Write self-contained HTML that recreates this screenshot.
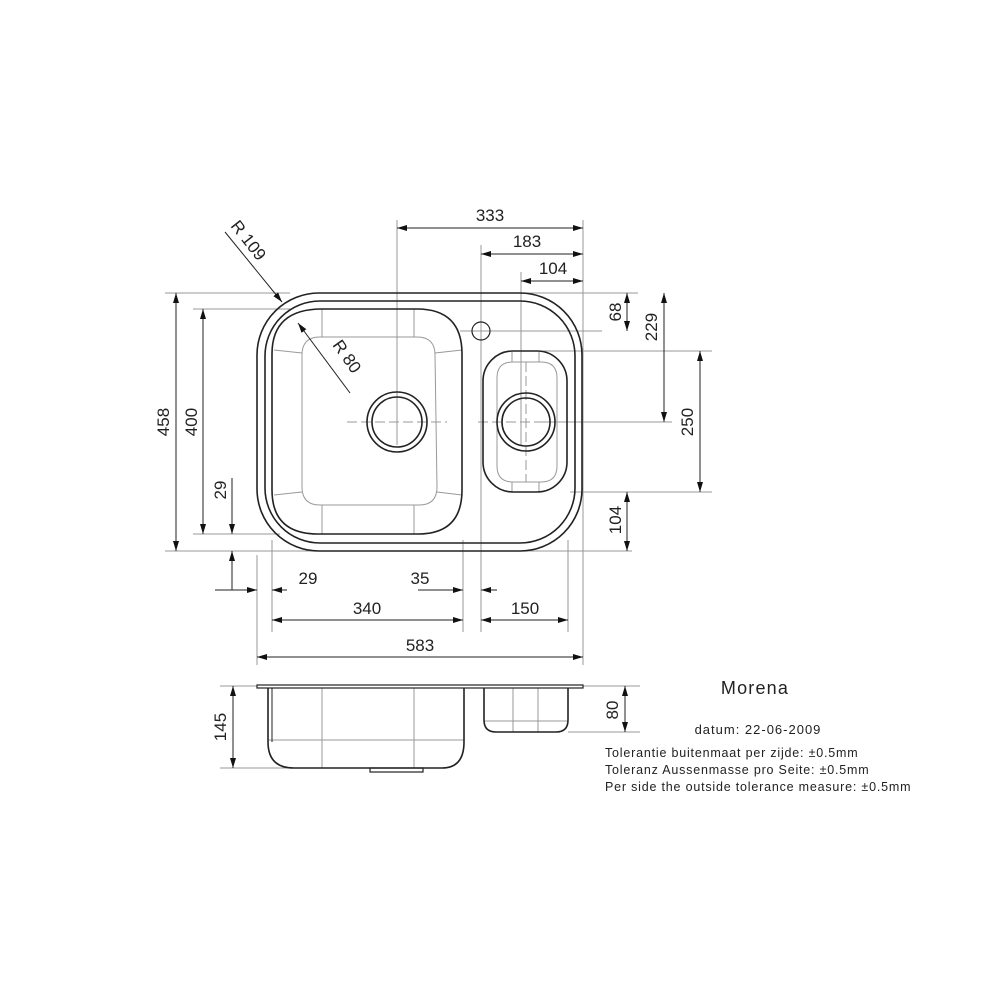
<!DOCTYPE html>
<html><head><meta charset="utf-8"><style>
html,body{margin:0;padding:0;background:#fff;}
svg{display:block;}
text{font-family:"Liberation Sans",Arial,sans-serif;fill:#222;}
</style></head><body>
<svg width="1000" height="1000" viewBox="0 0 1000 1000" xmlns="http://www.w3.org/2000/svg">
<defs>
<marker id="a" viewBox="0 0 10 6" refX="10" refY="3" markerWidth="10" markerHeight="6" markerUnits="userSpaceOnUse" orient="auto-start-reverse"><path d="M0,0L10,3L0,6z" fill="#111"/></marker>
</defs>
<g fill="none" stroke="#999" stroke-width="1">
<line x1="397" y1="220" x2="397" y2="445"/>
<line x1="481" y1="245" x2="481" y2="632"/>
<line x1="521" y1="272" x2="521" y2="445"/>
<line x1="583" y1="220" x2="583" y2="665"/>
<line x1="165" y1="293" x2="290" y2="293"/>
<line x1="500" y1="293" x2="638" y2="293"/>
<line x1="193" y1="309" x2="290" y2="309"/>
<line x1="490" y1="331" x2="602" y2="331"/>
<line x1="530" y1="351" x2="712" y2="351"/>
<line x1="570" y1="492" x2="712" y2="492"/>
<line x1="165" y1="551" x2="632" y2="551"/>
<line x1="193" y1="534" x2="280" y2="534"/>
<line x1="540" y1="422" x2="672" y2="422"/>
<line x1="257" y1="555" x2="257" y2="665"/>
<line x1="272" y1="540" x2="272" y2="632"/>
<line x1="463" y1="540" x2="463" y2="632"/>
<line x1="568" y1="540" x2="568" y2="632"/>
<line x1="347" y1="422" x2="447" y2="422" stroke-dasharray="10,4"/>
<line x1="478" y1="422" x2="575" y2="422" stroke-dasharray="10,4"/>
<line x1="526" y1="362" x2="526" y2="482" stroke-dasharray="10,4"/>
<line x1="460" y1="331" x2="500" y2="331"/>
<line x1="220" y1="686" x2="257" y2="686"/>
<line x1="220" y1="768" x2="300" y2="768"/>
<line x1="583" y1="686" x2="640" y2="686"/>
<line x1="568" y1="732" x2="640" y2="732"/>
<path d="M302,355 Q302,337 320,337 L417,337 Q435,337 435,355 L437,487 Q437,505 419,505 L320,505 Q302,505 302,487 Z"/>
<line x1="322" y1="309" x2="322" y2="337"/><line x1="414" y1="309" x2="414" y2="337"/>
<line x1="322" y1="505" x2="322" y2="534"/><line x1="414" y1="505" x2="414" y2="534"/>
<line x1="274" y1="350" x2="302" y2="353"/><line x1="435" y1="353" x2="462" y2="350"/>
<line x1="274" y1="495" x2="302" y2="492"/><line x1="437" y1="492" x2="462" y2="495"/>
<path d="M497,378 Q497,362 513,362 L541,362 Q557,362 557,378 L557,466 Q557,482 541,482 L513,482 Q497,482 497,466 Z"/>
<line x1="512" y1="352" x2="512" y2="362"/><line x1="539" y1="352" x2="539" y2="362"/>
<line x1="512" y1="482" x2="512" y2="492"/><line x1="539" y1="482" x2="539" y2="492"/>
<line x1="322" y1="688" x2="322" y2="768"/><line x1="414" y1="688" x2="414" y2="768"/>
<line x1="268" y1="740" x2="464" y2="740"/>
<line x1="513" y1="688" x2="513" y2="732"/><line x1="538" y1="688" x2="538" y2="732"/>
<line x1="484" y1="721" x2="567" y2="721"/>
</g>
<g fill="none" stroke="#222" stroke-width="1.6">
<rect x="257" y="293" width="325" height="258" rx="62"/>
<rect x="265" y="301" width="310" height="242" rx="55"/>
<path d="M322,309 L417,309 Q462,309 462,354 L462,490 Q462,534 418,534 L318,534 Q272,534 272,490 L272,354 Q272,309 322,309 Z"/>
<rect x="483" y="351" width="84" height="141" rx="30"/>
<circle cx="397" cy="422" r="30"/><circle cx="397" cy="422" r="25"/>
<circle cx="526" cy="422" r="29"/><circle cx="526" cy="422" r="24"/>
<circle cx="481" cy="331" r="9" stroke-width="1.2"/>
<rect x="257" y="685" width="326" height="3" stroke-width="1.2"/>
<path d="M268,688 L268,742 Q268,768 294,768 L442,768 Q464,768 464,742 L464,688"/>
<path d="M272,688 L272,742" stroke-width="1"/>
<path d="M484,688 L484,720 Q484,732 496,732 L556,732 Q568,732 568,720 L568,688"/>
<rect x="370" y="768" width="53" height="4" stroke-width="1.2"/>
</g>
<g stroke="#222" stroke-width="1" marker-start="url(#a)" marker-end="url(#a)">
<line x1="397" y1="228" x2="583" y2="228"/>
<line x1="481" y1="254" x2="583" y2="254"/>
<line x1="521" y1="281" x2="583" y2="281"/>
<line x1="176" y1="293" x2="176" y2="551"/>
<line x1="203" y1="309" x2="203" y2="534"/>
<line x1="664" y1="293" x2="664" y2="422"/>
<line x1="700" y1="351" x2="700" y2="492"/>
<line x1="272" y1="620" x2="463" y2="620"/>
<line x1="481" y1="620" x2="568" y2="620"/>
<line x1="257" y1="657" x2="583" y2="657"/>
<line x1="233" y1="686" x2="233" y2="768"/>
<line x1="625" y1="686" x2="625" y2="732"/>
</g>
<g stroke="#222" stroke-width="1" marker-end="url(#a)">
<line x1="627" y1="322" x2="627" y2="293"/><line x1="627" y1="302" x2="627" y2="331"/>
<line x1="627" y1="522" x2="627" y2="492"/><line x1="627" y1="520" x2="627" y2="551"/>
<line x1="232" y1="478" x2="232" y2="534"/><line x1="232" y1="590" x2="232" y2="551"/>
<line x1="215" y1="590" x2="257" y2="590"/><line x1="287" y1="590" x2="272" y2="590"/>
<line x1="418" y1="590" x2="463" y2="590"/><line x1="497" y1="590" x2="481" y2="590"/>
<line x1="225" y1="232" x2="282" y2="302"/>
<line x1="350" y1="393" x2="298" y2="323"/>
</g>
<g font-size="17">
<text x="490" y="221" text-anchor="middle">333</text>
<text x="527" y="247" text-anchor="middle">183</text>
<text x="553" y="274" text-anchor="middle">104</text>
<text x="308" y="584" text-anchor="middle">29</text>
<text x="420" y="584" text-anchor="middle">35</text>
<text x="367" y="614" text-anchor="middle">340</text>
<text x="525" y="614" text-anchor="middle">150</text>
<text x="420" y="651" text-anchor="middle">583</text>
<text transform="translate(169,422) rotate(-90)" text-anchor="middle">458</text>
<text transform="translate(197,422) rotate(-90)" text-anchor="middle">400</text>
<text transform="translate(226,490) rotate(-90)" text-anchor="middle">29</text>
<text transform="translate(621,312) rotate(-90)" text-anchor="middle">68</text>
<text transform="translate(657,327) rotate(-90)" text-anchor="middle">229</text>
<text transform="translate(693,422) rotate(-90)" text-anchor="middle">250</text>
<text transform="translate(621,520) rotate(-90)" text-anchor="middle">104</text>
<text transform="translate(226,727) rotate(-90)" text-anchor="middle">145</text>
<text transform="translate(618,710) rotate(-90)" text-anchor="middle">80</text>
<text transform="translate(230,226) rotate(52)">R 109</text>
<text transform="translate(332,345) rotate(55)">R 80</text>
</g>
<text x="755" y="694" font-size="18" letter-spacing="1.2" text-anchor="middle">Morena</text>
<text x="758" y="734" font-size="13" letter-spacing="1" text-anchor="middle">datum: 22-06-2009</text>
<g font-size="12.5" letter-spacing="0.8">
<text x="605" y="757">Tolerantie buitenmaat per zijde:  ±0.5mm</text>
<text x="605" y="774">Toleranz Aussenmasse pro Seite:  ±0.5mm</text>
<text x="605" y="791">Per side the outside tolerance measure:  ±0.5mm</text>
</g>
</svg>
</body></html>
